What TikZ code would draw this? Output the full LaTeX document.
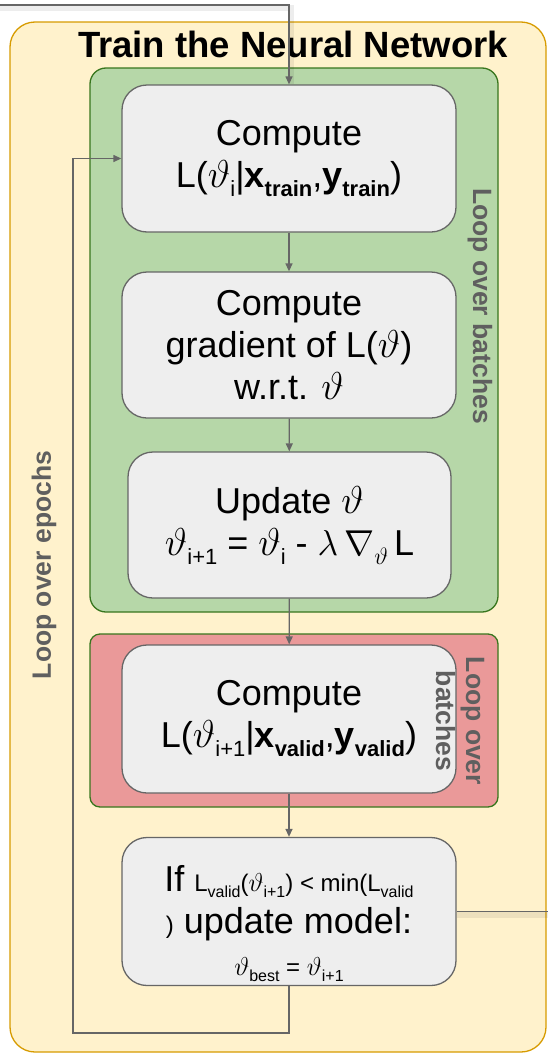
\RequirePackage{fix-cm}
\documentclass[tikz,border=0pt]{standalone}
\usepackage{fontspec}
\setmainfont{Liberation Sans}
\usetikzlibrary{arrows.meta}

\definecolor{outerfill}{HTML}{FFF2CC}
\definecolor{outerline}{HTML}{D79B00}
\definecolor{batchfill}{HTML}{B6D7A8}
\definecolor{batchline}{HTML}{38761D}
\definecolor{validfill}{HTML}{EA9999}
\definecolor{stepfill}{HTML}{EEEEEE}
\definecolor{stepline}{HTML}{666666}
\definecolor{labelgray}{HTML}{5F5F5F}

% text sizes used inside the step boxes
\newcommand\bigtext{\fontsize{36}{42}\selectfont}
\newcommand\smalltext{\fontsize{24}{42}\selectfont}
% lowered subscripts for large and small text
\newcommand\dn[1]{\raisebox{-9pt}{\fontsize{22}{22}\selectfont #1}}
\newcommand\dns[1]{\raisebox{-6pt}{\fontsize{16}{16}\selectfont #1}}
% slightly enlarged theta
\newcommand\vth{\scalebox{1.08}{$\vartheta$}}

\tikzset{
  container/.style={draw=outerline, fill=outerfill, line width=1.3pt,
    rounded corners=25pt, inner sep=0pt},
  batchbox/.style={draw=batchline, fill=batchfill, line width=1.3pt,
    rounded corners=16pt, inner sep=0pt},
  validbox/.style={draw=batchline, fill=validfill, line width=1.3pt,
    rounded corners=10pt, inner sep=0pt},
  stepbox/.style={draw=stepline, fill=stepfill, line width=1.3pt,
    rounded corners=25pt, inner sep=0pt, align=center, font=\bigtext},
  looplabel/.style={text=labelgray, font=\fontsize{26.5}{30}\selectfont\bfseries,
    align=center, inner sep=0pt},
  flow/.style={draw=stepline, line width=1.3pt,
    -{Triangle[length=8pt,width=7pt]}},
  plainflow/.style={draw=stepline, line width=1.3pt},
  lineshadow/.style={draw=black, opacity=0.07, line width=6pt},
}

\begin{document}
\begin{tikzpicture}[x=1pt, y=-1pt]
  \useasboundingbox (0,0) rectangle (548,1055);

  % containers
  \node[container, minimum width=536pt, minimum height=1030pt] (train) at (278,537) {};
  \node[anchor=base, font=\fontsize{36.5}{40}\selectfont\bfseries, inner sep=0pt]
    (title) at (293,57) {Train the Neural Network};
  \node[batchbox, minimum width=408pt, minimum height=544pt] (batches) at (294,340) {};
  \node[validbox, minimum width=408pt, minimum height=173pt] (valid) at (294,720.5) {};

  % steps
  \node[stepbox, minimum width=334pt, minimum height=147pt] (b1) at (289,158.5)
    {Compute\\L(\vth\dn{i}|\textbf{x\dn{train}},\textbf{y\dn{train}})};
  \node[stepbox, minimum width=334pt, minimum height=146pt] (b2) at (289,345)
    {Compute\\gradient of L(\vth)\\w.r.t. \vth};
  \node[stepbox, minimum width=323pt, minimum height=146pt] (b3) at (289.5,525)
    {Update \vth\\\vth\dn{i+1} = \vth\dn{i} - $\lambda\,\nabla$\dn{\vth}\,L};
  \node[stepbox, minimum width=334pt, minimum height=148pt] (b4) at (289,719)
    {Compute\\L(\vth\dn{i+1}|\textbf{x\dn{valid}},\textbf{y\dn{valid}})};
  \node[stepbox, minimum width=334pt, minimum height=148pt] (b5) at (289,911.5)
    {\rule{0pt}{50pt}If {\smalltext L\dns{valid}(\vth\dns{i+1}) < min(L\dns{valid}}\\
     {\smalltext )} update model:\\
     {\smalltext \vth\dns{best} = \vth\dns{i+1}}};

  % loop labels
  \node[looplabel, rotate=90] (epochs) at (44,565) {Loop over epochs};
  \node[looplabel, rotate=-90] (batchlbl) at (480,306) {Loop over batches};
  \node[looplabel, rotate=-90] (validlbl) at (460,721) {Loop over\\batches};

  % free ends of the connectors
  \coordinate (entry) at (0,5);
  \coordinate (exit) at (548,911.5);
  \coordinate (loopbot) at (73,1033);

  % connectors
  \draw[lineshadow] ([yshift=-3pt]entry) -| ([xshift=2pt]b1.north);
  \draw[flow] (entry) -| (b1.north);
  \draw[flow] (b1) -- (b2);
  \draw[flow] (b2) -- (b3);
  \draw[flow] (b3) -- (b4);
  \draw[flow] (b4) -- (b5);
  \draw[flow] (b5.south) |- (loopbot) |- (b1.west);
  \draw[lineshadow] ([yshift=-3pt]b5.east) -- ([yshift=-3pt]exit);
  \draw[plainflow] (b5.east) -- (exit);
\end{tikzpicture}
\end{document}
